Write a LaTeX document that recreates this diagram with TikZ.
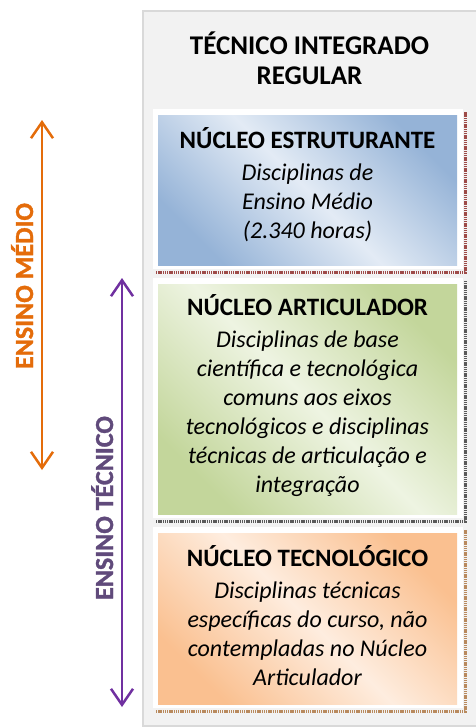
\documentclass[tikz,border=0pt]{standalone}
\usepackage{fontspec}
\setmainfont{Carlito}
\newfontfamily\rotulofont{Carlito}[BoldFeatures={FakeBold=1.2}]
\usetikzlibrary{arrows.meta, positioning}
\definecolor{painel}{HTML}{F2F2F2}
\definecolor{painelborda}{HTML}{D9D9D9}
\definecolor{azulEsc}{HTML}{95B3D7}
\definecolor{azulClr}{HTML}{E3EBF5}
\definecolor{verdeEsc}{HTML}{C3D69B}
\definecolor{verdeClr}{HTML}{EEF4E2}
\definecolor{laranjaEsc}{HTML}{FAC090}
\definecolor{laranjaClr}{HTML}{FEEDDF}
\definecolor{sombraAzul}{HTML}{9E4B48}
\definecolor{sombraVerde}{HTML}{5A5A5A}
\definecolor{sombraLaranja}{HTML}{B98A5E}
\definecolor{laranja}{HTML}{E46C0A}
\definecolor{roxo}{HTML}{7030A0}
\definecolor{roxoTexto}{HTML}{604A7B}

\begin{document}
\begin{tikzpicture}[x=1pt, y=-1pt,
                    moldura/.style={fill=white, inner sep=0pt, minimum width=310, minimum height=160},
                    caixa/.style={inner sep=0pt, minimum width=299,
                                  left color=#1Esc, right color=#1Esc, middle color=#1Clr,
                                  shading angle=-45},
                    sombra/.style={line width=3pt, dash pattern=on 1.4pt off 0.8pt},
                    cabeca/.style={align=center, font=\fontsize{24}{29}\selectfont\itshape},
                    eixo/.style={line width=2.5pt, {Straight Barb[length=16pt,width=22pt]}-{Straight Barb[length=16pt,width=22pt]}},
                    rotulo/.style={rotate=90, anchor=base, font=\rotulofont\fontsize{26}{30}\selectfont\bfseries}]
                    \useasboundingbox (0,0) rectangle (476,728);
                    % painel cinza
                    \draw[fill=painel, draw=painelborda, line width=2pt] (143,11) rectangle (490,726);
                    \node[align=center, font=\fontsize{27}{30}\selectfont\bfseries] (titulo) at (309.5,58)
                        {TÉCNICO INTEGRADO\\REGULAR};
                    % nucleo estruturante
                    \draw[sombra, sombraAzul] (156,272) -- (465,272) -- (465,112);
                    \node[moldura, minimum height=160] (estMold) at (308,189) {};
                    \node[caixa=azul, minimum height=150] (estBox) at (307.5,190) {};
                    \node[cabeca] (est) at (307.5,185)
                        {\textup{\bfseries\fontsize{25}{29}\selectfont NÚCLEO ESTRUTURANTE}\\[3pt]
                         Disciplinas de\\Ensino Médio\\(2.340 horas)};
                    % nucleo articulador
                    \draw[sombra, sombraVerde] (156,521) -- (465,521) -- (465,281);
                    \node[moldura, minimum height=240] (artMold) at (308,398) {};
                    \node[caixa=verde, minimum height=230] (artBox) at (307.5,399) {};
                    \node[cabeca] (art) at (307.5,396)
                        {\textup{\bfseries\fontsize{25}{29}\selectfont NÚCLEO ARTICULADOR}\\[3pt]
                         Disciplinas de base\\científica e tecnológica\\comuns aos eixos\\
                         tecnológicos e disciplinas\\técnicas de articulação e\\integração};
                    % nucleo tecnologico
                    \draw[sombra, sombraLaranja] (156,711) -- (465,711) -- (465,530);
                    \node[moldura, minimum height=181] (tecMold) at (308,617.5) {};
                    \node[caixa=laranja, minimum height=171] (tecBox) at (307.5,618.5) {};
                    \node[cabeca] (tec) at (307.5,616)
                        {\textup{\bfseries\fontsize{25}{29}\selectfont NÚCLEO TECNOLÓGICO}\\[3pt]
                         Disciplinas técnicas\\específicas do curso, não\\contempladas no Núcleo\\Articulador};
                    % eixos
                    \coordinate (medioTopo) at (42,120);
                    \coordinate (medioBase) at (42,470);
                    \coordinate (tecnicoTopo) at (122,278);
                    \coordinate (tecnicoBase) at (122,707);
                    \draw[eixo, laranja] (medioTopo) -- (medioBase);
                    \draw[eixo, roxo] (tecnicoTopo) -- (tecnicoBase);
                    \node[rotulo, text=laranja] (medio) at (33,286) {ENSINO MÉDIO};
                    \node[rotulo, text=roxoTexto] (tecnico) at (113,508) {ENSINO TÉCNICO};
\end{tikzpicture}
\end{document}
